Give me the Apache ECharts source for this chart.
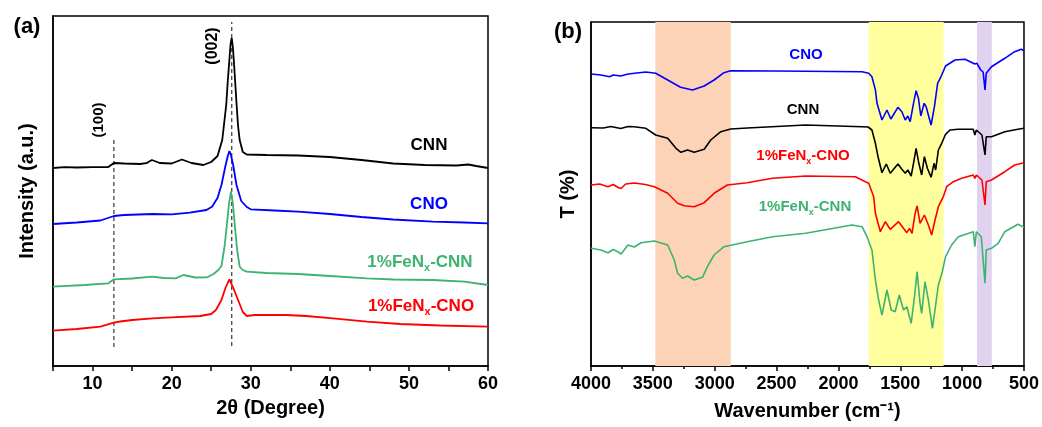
<!DOCTYPE html>
<html><head><meta charset="utf-8">
<script src="https://cdn.jsdelivr.net/npm/echarts@6/dist/echarts.min.js"></script>
<style>html,body{margin:0;padding:0;background:#fff}#c{width:1042px;height:427px}</style>
</head><body><div id="c"></div>
<script>
// ---------- Panel (a): XRD, [2theta, intensity (a.u., offset)] ----------
const xrdCNN = [[5,198],[6.5,198.8],[8,198.5],[10,198.9],[12,199],[12.7,203],[14,202.5],[16,202],[16.8,202.8],[17.5,206],[18.5,203],[20,202.5],[21.3,206.5],[22.5,203],[24,201],[25,204],[25.8,210],[26.4,226],[26.6,240],[26.9,261],[27.1,285],[27.3,306],[27.45,322],[27.6,328],[27.75,318],[27.9,301],[28.05,282],[28.2,263],[28.4,240],[28.6,226],[29,214],[29.5,211.5],[32,211],[36,210.5],[40,209],[44,206],[48,202.5],[52,201],[56,200.5],[57.5,201.5],[58.5,200],[60,198]];
const xrdCNO = [[5,142],[8,143.5],[11,145.5],[12.7,150],[14,151],[17.6,152],[20,151.7],[22.3,153.3],[24.4,156],[25.1,159.3],[25.8,168],[26.3,181],[26.8,200],[27.1,210],[27.3,215],[27.5,211],[27.8,200],[28.2,181],[28.8,165],[29.5,159],[30,156.7],[33,155.5],[36,154.3],[40,152],[44,149],[48,146.5],[53,144.3],[57,143.5],[60,142.7]];
const xrdFeCNN = [[5,79.3],[9,81],[12,82.7],[12.7,86.7],[15,87.5],[17.5,89.3],[19,88],[20.5,87.7],[21.5,91],[23,88.5],[24.5,88.7],[25.3,92],[25.9,96],[26.3,100],[26.7,120],[26.96,139.3],[27.25,162],[27.5,174.3],[27.75,162],[28,139.3],[28.3,115],[28.6,99.3],[29,96],[29.5,94.3],[32,93],[36,92],[40,90],[44.7,87.7],[48,86.5],[53,86],[57,84.3],[60,81]];
const xrdFeCNO = [[5,35.3],[8,37],[11,39.3],[12.7,43.3],[13.5,44.5],[15,46],[17.6,47.7],[20,48.7],[23.6,50],[25,52],[25.6,56],[26.3,66],[26.8,78],[27.3,86.7],[27.8,78],[28.4,66],[29,54],[29.5,50],[30.5,51],[34.5,51],[37,50],[40.4,47.7],[44.7,44.3],[48.9,42],[54,40.5],[60,39.3]];
const refLine100 = [[12.7,19],[12.7,227]];
const refLine002 = [[27.6,20],[27.6,344]];
const xrdTicks = [10,20,30,40,50,60];

// ---------- Panel (b): FTIR, [wavenumber, T (offset)] ----------
const ftCNO = [[4000,292],[3920,291],[3850,289.3],[3820,291],[3760,290],[3700,292],[3557,294],[3477,292.7],[3380,286],[3276,278.7],[3180,276],[3085,280],[3005,286],[2925,293.3],[2873,295.3],[2500,295],[1809,294.3],[1755,292.7],[1729,289.3],[1701,276],[1688,262.7],[1648,246],[1608,256],[1576,247],[1519,258.7],[1487,254.3],[1460,246],[1439,250],[1420,244.3],[1393,262.7],[1372,275.3],[1353,267.7],[1334,250],[1307,262.7],[1291,259.3],[1251,241],[1224,259.3],[1198,282.7],[1171,289.3],[1134,300],[1058,306],[977,306.7],[897,302],[880,302.7],[850,296],[830,294],[815,276],[805,292.7],[763,299.3],[655,307.7],[575,314.3],[522,316.7],[500,315.3]];
const ftCNN = [[4000,238.3],[3900,238],[3840,239.5],[3760,237.5],[3700,239.5],[3650,239.3],[3557,237.7],[3477,231],[3380,227.7],[3313,217.7],[3273,213.7],[3220,216],[3166,213.7],[3085,216.7],[3032,226],[2951,234.3],[2871,237],[2737,238],[2265,241],[1809,239.3],[1760,239],[1729,236],[1701,222.7],[1680,209.3],[1648,193.3],[1613,202],[1581,192.7],[1519,202],[1487,196.7],[1460,192.7],[1439,196],[1412,190],[1393,202.7],[1372,217.7],[1350,202.7],[1327,191],[1305,209.3],[1281,197.7],[1251,188.7],[1227,202.7],[1214,196],[1192,216],[1165,222.7],[1134,231.7],[1098,236],[1031,236.7],[910,236.7],[897,231],[885,236],[840,231],[815,211],[805,229.3],[763,229.3],[655,234.3],[549,236.7],[500,237.7]];
const ftFeCNO = [[4000,181],[3930,182],[3863,179.3],[3820,181.5],[3780,178.5],[3756,177.5],[3720,182],[3650,183],[3560,181.5],[3488,179.3],[3380,172.7],[3300,162.7],[3246,160.3],[3166,159.3],[3085,163.3],[3005,172.7],[2898,181],[2737,183.3],[2533,187.7],[2265,190],[1863,189.3],[1782,184.3],[1755,182.7],[1715,169.3],[1701,152.7],[1661,134.3],[1621,144.3],[1581,136.7],[1514,144.3],[1474,137.7],[1447,133.3],[1425,137.7],[1405,132.7],[1380,152.7],[1364,160],[1340,142.7],[1305,151],[1273,141],[1246,131],[1219,146],[1192,159.3],[1152,169.3],[1125,179.3],[1071,184.3],[1004,187.7],[910,191],[897,187.7],[885,191],[840,186],[815,161],[805,184.3],[763,186],[655,194.3],[575,201],[500,203.3]];
const ftFeCNN = [[4000,117.7],[3920,116],[3863,113.3],[3820,116.5],[3780,114],[3756,112],[3702,121],[3650,119],[3595,123.3],[3488,125],[3380,121],[3327,106],[3300,92.7],[3260,87.7],[3220,90],[3166,86],[3099,88.7],[3059,99.3],[3005,111],[2925,119.3],[2737,124.3],[2533,129.3],[2265,132.7],[1890,141],[1809,139.3],[1769,129.3],[1755,129.3],[1729,116],[1701,86],[1675,66],[1648,51],[1608,76],[1573,56],[1541,54.3],[1508,71],[1474,56],[1447,59.3],[1412,42.7],[1385,69.3],[1364,94.3],[1340,62.7],[1327,52.7],[1300,84.3],[1273,66],[1240,37.7],[1214,61],[1192,81],[1160,94.3],[1134,109.3],[1085,121],[1031,129.3],[910,134.3],[897,119.3],[885,134.3],[845,129.3],[815,82.7],[805,116],[763,117.7],[709,122.7],[655,134.3],[549,141.7],[500,138.7]];
const bandOH = [3480, 2870];
const bandCN = [1755, 1150];
const bandTri = [880, 760];

const FONT = 'Liberation Sans, Arial, sans-serif';
const C = {black:'#000000', blue:'#0000FF', green:'#3CB371', red:'#FF0000'};

const chart = echarts.init(document.getElementById('c'), null, {renderer:'canvas'});

function lineSeries(data, color, xi, w) {
  return {type:'line', xAxisIndex:xi, yAxisIndex:xi, data:data, showSymbol:false, symbol:'none',
    lineStyle:{color:color, width:w}, itemStyle:{color:color}, animation:false, z:3};
}
function dashed(data) {
  return {type:'line', xAxisIndex:0, yAxisIndex:0, data:data, showSymbol:false, symbol:'none',
    lineStyle:{color:'#333', width:1.2, type:[4,3]}, animation:false, z:2};
}
function label(text, x, y, color, size, rot) {
  const parts = text.split('_');
  let rich = null, t = text;
  if (parts.length > 1) {
    t = '{b|' + parts[0] + '}{s|' + parts[1].charAt(0) + '}{b|' + parts[1].slice(1) + '}';
    rich = {b:{fontSize:size, fontWeight:'bold', fontFamily:FONT, fill:color, lineHeight:size+6, verticalAlign:'middle'},
            s:{fontSize:Math.round(size*0.62), fontWeight:'bold', fontFamily:FONT, fill:color, lineHeight:size+6, verticalAlign:'bottom', padding:[Math.round(size*0.55),0,0,0]}};
  }
  const st = {text:t, x:0, y:0, fill:color, fontSize:size, fontWeight:'bold', fontFamily:FONT, align:'center', verticalAlign:'middle'};
  if (rich) st.rich = rich;
  return {type:'text', x:x, y:y, rotation:rot||0, style:st, z:10};
}

const axisCommonX = {
  axisLine:{lineStyle:{color:'#000', width:1.5}},
  axisTick:{show:true, inside:false, length:5, lineStyle:{color:'#000', width:1.5}},
  splitLine:{show:false},
  nameLocation:'middle',
  nameTextStyle:{color:'#000', fontSize:20, fontWeight:'bold', fontFamily:FONT}
};

const option = {
  animation:false,
  backgroundColor:'#fff',
  textStyle:{fontFamily:FONT},
  grid:[
    {left:53, top:16, width:435, height:350, show:true, borderColor:'#000', borderWidth:1.5, containLabel:false},
    {left:591, top:22, width:435, height:344, show:true, borderColor:'#000', borderWidth:1.5, containLabel:false}
  ],
  xAxis:[
    Object.assign({}, axisCommonX, {gridIndex:0, type:'value', min:5, max:60, interval:5,
      name:'2θ (Degree)', nameGap:32,
      axisLabel:{color:'#000', fontSize:18, fontWeight:'bold', fontFamily:FONT, margin:9,
        formatter:function(v){return xrdTicks.indexOf(v) >= 0 ? String(v) : '';}}}),
    Object.assign({}, axisCommonX, {gridIndex:1, type:'value', min:500, max:4000, interval:500, inverse:true,
      name:'Wavenumber (cm⁻¹)', nameGap:35,
      minorTick:{show:true, splitNumber:2, length:3, lineStyle:{color:'#000', width:1.5}},
      axisLabel:{color:'#000', fontSize:18, fontWeight:'bold', fontFamily:FONT, margin:9,
        formatter:function(v){return String(v);}}})
  ],
  yAxis:[
    {gridIndex:0, type:'value', min:0, max:350, name:'Intensity (a.u.)', nameLocation:'middle', nameGap:16,
      nameTextStyle:{color:'#000', fontSize:20, fontWeight:'bold', fontFamily:FONT},
      axisLine:{show:true, lineStyle:{color:'#000', width:1.5}}, axisTick:{show:false}, axisLabel:{show:false}, splitLine:{show:false}},
    {gridIndex:1, type:'value', min:0, max:344, name:'T (%)', nameLocation:'middle', nameGap:13,
      nameTextStyle:{color:'#000', fontSize:20, fontWeight:'bold', fontFamily:FONT},
      axisLine:{show:true, lineStyle:{color:'#000', width:1.5}}, axisTick:{show:false}, axisLabel:{show:false}, splitLine:{show:false}}
  ],
  series:[
    dashed(refLine100), dashed(refLine002),
    lineSeries(xrdCNN, C.black, 0, 1.8),
    lineSeries(xrdCNO, C.blue, 0, 1.8),
    lineSeries(xrdFeCNN, C.green, 0, 1.8),
    lineSeries(xrdFeCNO, C.red, 0, 1.8),
    Object.assign(lineSeries(ftCNO, C.blue, 1, 1.6), {
      markArea:{silent:true, z:1, data:[
        [{xAxis:bandOH[0], itemStyle:{color:'#FCD3B6'}}, {xAxis:bandOH[1]}],
        [{xAxis:bandCN[0], itemStyle:{color:'#FFFF9E'}}, {xAxis:bandCN[1]}],
        [{xAxis:bandTri[0], itemStyle:{color:'#E1D2F0'}}, {xAxis:bandTri[1]}]
      ]}}),
    lineSeries(ftCNN, C.black, 1, 1.6),
    lineSeries(ftFeCNO, C.red, 1, 1.6),
    lineSeries(ftFeCNN, C.green, 1, 1.6)
  ],
  graphic:[
    label('(a)', 27, 27, '#000', 22),
    label('(b)', 568, 32, '#000', 22),
    label('(100)', 99, 120, '#000', 15, Math.PI/2),
    label('(002)', 213, 46, '#000', 16, Math.PI/2),
    label('CNN', 429, 145, C.black, 17),
    label('CNO', 429, 204, C.blue, 17),
    label('1%FeN_x-CNN', 420, 262, C.green, 17),
    label('1%FeN_x-CNO', 421, 306, C.red, 17),
    label('CNO', 806, 55, C.blue, 15),
    label('CNN', 803, 110, C.black, 15),
    label('1%FeN_x-CNO', 803, 156, C.red, 15),
    label('1%FeN_x-CNN', 805, 207, C.green, 15)
  ]
};
chart.setOption(option);
</script></body></html>
